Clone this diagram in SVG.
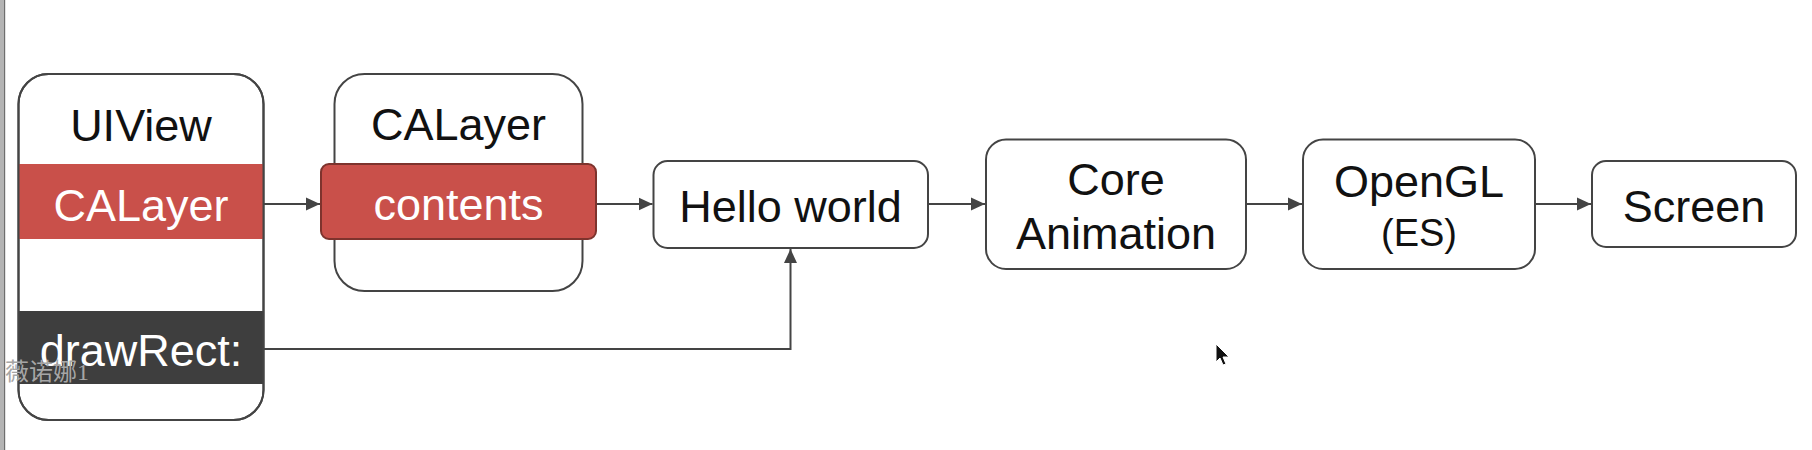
<svg xmlns="http://www.w3.org/2000/svg" width="1812" height="450" viewBox="0 0 1812 450">
<style>
  .box { fill: #ffffff; stroke: #444444; stroke-width: 2; }
  .outline { fill: none; stroke: #444444; stroke-width: 2; }
  .t { font-family: "Liberation Sans", Arial, sans-serif; font-size: 45px; text-anchor: middle; fill: #111111; }
  .w { fill: #ffffff; }
  .red { fill: #c9504a; }
  .dark { fill: #3e3e3e; }
  .conn { fill: none; stroke: #444444; stroke-width: 2; }
</style>
<defs>
  <marker id="arrow" markerUnits="userSpaceOnUse" markerWidth="16" markerHeight="16" refX="14" refY="7" orient="auto">
    <path d="M0,0.5 L14,7 L0,13.5 Z" fill="#444444"/>
  </marker>
</defs>
<rect x="0" y="0" width="1812" height="450" fill="#ffffff"/>
<rect x="0" y="0" width="4" height="450" fill="#b4b4b4"/>
<rect x="4" y="0" width="1.2" height="450" fill="#6e6e6e"/>

<g id="connectors">
  <path class="conn" d="M263.5,204 H320" marker-end="url(#arrow)"/>
  <path class="conn" d="M596,204 H652.5" marker-end="url(#arrow)"/>
  <path class="conn" d="M928,204 H985" marker-end="url(#arrow)"/>
  <path class="conn" d="M1246,204 H1302" marker-end="url(#arrow)"/>
  <path class="conn" d="M1535,204 H1591" marker-end="url(#arrow)"/>
  <path class="conn" d="M263.5,349 H790.5 V249" marker-end="url(#arrow)"/>
</g>

<g id="uiview">
  <rect class="box" x="18.5" y="74" width="245" height="346" rx="30"/>
  <rect class="red" x="18.5" y="164" width="245" height="75"/>
  <rect class="dark" x="18.5" y="311" width="245" height="73"/>
  <rect class="outline" x="18.5" y="74" width="245" height="346" rx="30"/>
  <text class="t" x="141" y="141">UIView</text>
  <text class="t w" x="141" y="221">CALayer</text>
  <text class="t w" x="141" y="366">drawRect:</text>
</g>

<g id="calayer">
  <rect class="box" x="334.5" y="74" width="248" height="217" rx="30"/>
  <text class="t" x="458.5" y="140">CALayer</text>
</g>

<g id="contents">
  <rect x="321" y="164" width="275" height="75" rx="8" fill="#c9504a" stroke="#7d332d" stroke-width="2"/>
  <text class="t w" x="458.5" y="220">contents</text>
</g>

<g id="hello-world">
  <rect class="box" x="653.5" y="161" width="274.5" height="87" rx="14"/>
  <text class="t" x="790.5" y="222">Hello world</text>
</g>

<g id="core-animation">
  <rect class="box" x="986" y="139.5" width="260" height="129.5" rx="20"/>
  <text class="t" x="1116" y="195">Core</text>
  <text class="t" x="1116" y="249">Animation</text>
</g>

<g id="opengl">
  <rect class="box" x="1303" y="139.5" width="232" height="129.5" rx="20"/>
  <text class="t" x="1419" y="197">OpenGL</text>
  <text class="t" x="1419" y="246" style="font-size:38px">(ES)</text>
</g>

<g id="screen">
  <rect class="box" x="1592" y="161" width="204" height="86" rx="14"/>
  <text class="t" x="1694" y="222">Screen</text>
</g>

<text x="5" y="380" style="font-family:'Liberation Serif','Noto Sans CJK SC',serif;font-size:24px;fill:#a6a6a6">薇诺娜1</text>

<path d="M1216,344 L1216,362 L1220,358 L1223,365 L1226,364 L1223,357 L1229,357 Z" fill="#111111" stroke="#ffffff" stroke-width="1"/>
</svg>
